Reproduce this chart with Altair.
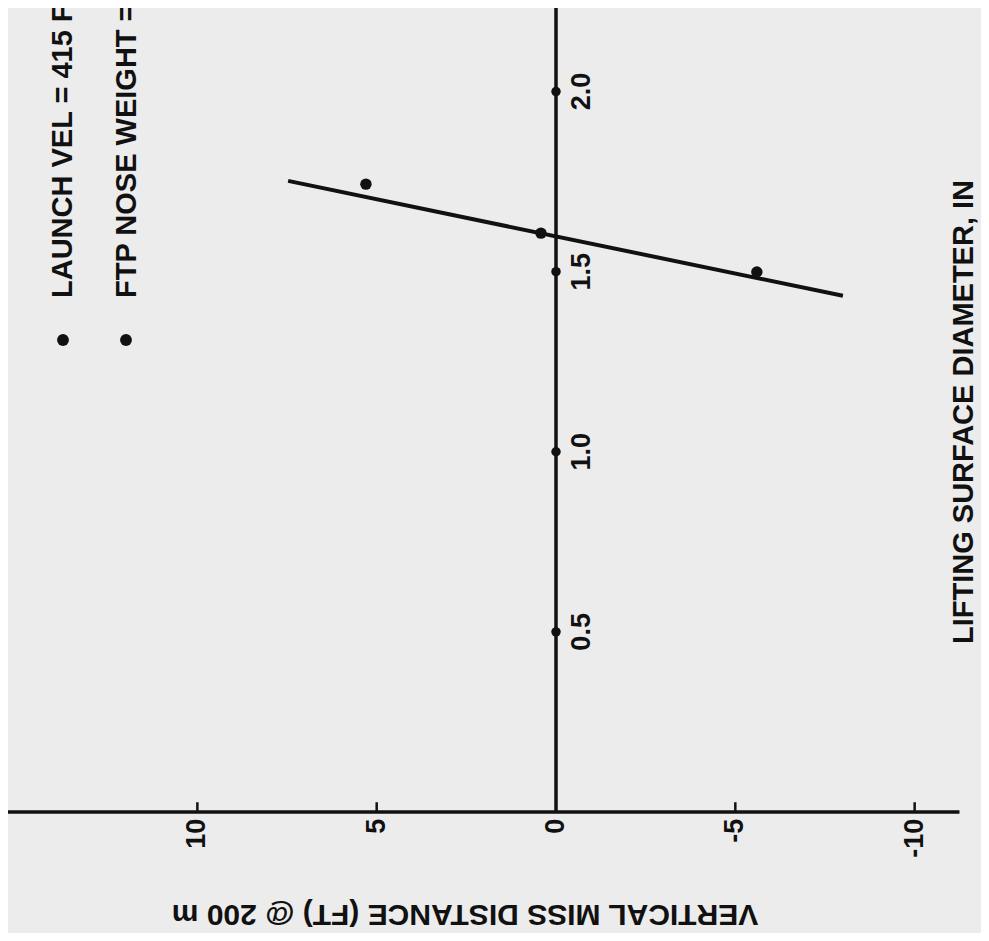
import altair as alt
import pandas as pd

# ---------------- data ----------------
miss_ft = [5.3, 0.42, -5.6]            # vertical miss distance of the test points
diameter_in = [1.743, 1.607, 1.499]    # lifting surface diameter of the test points
fit_miss = [7.47, -8.0]                # end points of the fitted line
fit_dia = [1.752, 1.433]
miss_ticks = [10, 5, 0, -5, -10]
miss_tick_labels = ["10", "5", "0", "-5", "-10"]
miss_tick_marks = [10, 5, -5, -10]
dia_ticks = [0.5, 1.0, 1.5, 2.0]
dia_tick_labels = ["0.5", "1.0", "1.5", "2.0"]
miss_axis_extent = [15.3, -11.25]
dia_axis_extent = [0.0, 2.24]
legend_lines = ["LAUNCH VEL = 415 FPS", "FTP NOSE WEIGHT = "]
x_title = "VERTICAL MISS DISTANCE (FT) @ 200 m"
y_title = "LIFTING SURFACE DIAMETER, IN"

# ---------------- layout / style ----------------
W, H = 973, 925
FONT = "Liberation Sans"
INK = "#111111"
X_DOMAIN = [-11.85, 15.28]
Y_DOMAIN = [-0.336, 2.232]
LEGEND_X = [55, 119]

xs = alt.Scale(domain=X_DOMAIN, reverse=True, nice=False, zero=False)
ys = alt.Scale(domain=Y_DOMAIN, nice=False, zero=False)


def X(field):
    return alt.X(field, type="quantitative", scale=xs, axis=None)


def Y(field):
    return alt.Y(field, type="quantitative", scale=ys, axis=None)


# axis lines
h_axis = alt.Chart(pd.DataFrame({"x1": [miss_axis_extent[0]], "x2": [miss_axis_extent[1]], "y": [0.0]})).mark_rule(
    color=INK, strokeWidth=3.5
).encode(x=X("x1"), x2="x2", y=Y("y"))

v_axis = alt.Chart(pd.DataFrame({"x": [0.0], "y1": [dia_axis_extent[0]], "y2": [dia_axis_extent[1]]})).mark_rule(
    color=INK, strokeWidth=3.5
).encode(x=X("x"), y=Y("y1"), y2="y2")

# short ticks on the miss-distance axis (pointing up)
h_ticks = alt.Chart(pd.DataFrame({"x": miss_tick_marks, "y1": [0.0] * 4, "y2": [0.027] * 4})).mark_rule(
    color=INK, strokeWidth=2.5
).encode(x=X("x"), y=Y("y1"), y2="y2")

# round tick marks on the diameter axis
v_ticks = alt.Chart(pd.DataFrame({"x": [0.0] * 4, "y": dia_ticks})).mark_point(
    filled=True, color=INK, size=90, opacity=1
).encode(x=X("x"), y=Y("y"))

# fitted line
fit = alt.Chart(pd.DataFrame({"x": fit_miss, "y": fit_dia})).mark_line(
    color=INK, strokeWidth=4
).encode(x=X("x"), y=Y("y"))

# test points
pts = alt.Chart(pd.DataFrame({"x": miss_ft, "y": diameter_in})).mark_point(
    filled=True, color=INK, size=130, opacity=1
).encode(x=X("x"), y=Y("y"))

# tick labels
miss_lbl = alt.Chart(pd.DataFrame({"x": miss_ticks, "y": [-0.019] * 5, "t": miss_tick_labels})).mark_text(
    font=FONT, fontWeight="bold", fontSize=27, color=INK, angle=270, align="right", baseline="middle"
).encode(x=X("x"), y=Y("y"), text="t:N")

dia_lbl = alt.Chart(pd.DataFrame({"x": [-0.72] * 4, "y": dia_ticks, "t": dia_tick_labels})).mark_text(
    font=FONT, fontWeight="bold", fontSize=27, color=INK, angle=270, align="center", baseline="middle"
).encode(x=X("x"), y=Y("y"), text="t:N")

# axis titles
xt = alt.Chart(pd.DataFrame({"t": [x_title]})).mark_text(
    font=FONT, fontWeight="bold", fontSize=30, color=INK, angle=180, align="center", baseline="middle"
).encode(x=alt.value(457), y=alt.value(906), text="t:N")

yt = alt.Chart(pd.DataFrame({"t": [y_title]})).mark_text(
    font=FONT, fontWeight="bold", fontSize=29, color=INK, angle=270, align="center", baseline="middle"
).encode(x=alt.value(956), y=alt.value(404), text="t:N")

# legend block (bullets + rotated text running off the top edge, as in the scan)
legend_layers = []
for i, line in enumerate(legend_lines):
    d = pd.DataFrame({"t": [line]})
    legend_layers.append(
        alt.Chart(d).mark_text(
            font=FONT, fontWeight="bold", fontSize=29, color=INK, angle=270, align="left", baseline="middle"
        ).encode(x=alt.value(LEGEND_X[i]), y=alt.value(290), text="t:N")
    )
    legend_layers.append(
        alt.Chart(d).mark_point(filled=True, color=INK, size=140, opacity=1).encode(
            x=alt.value(LEGEND_X[i] - i), y=alt.value(332)
        )
    )

chart = alt.layer(
    h_axis, v_axis, h_ticks, v_ticks, fit, pts, miss_lbl, dia_lbl, xt, yt, *legend_layers
).properties(
    width=W, height=H, autosize=alt.AutoSizeParams(type="none"), padding=0, background="#ececec"
).configure_view(stroke=None)

chart.save("out.html", embed_options={"renderer": "svg", "actions": False})
